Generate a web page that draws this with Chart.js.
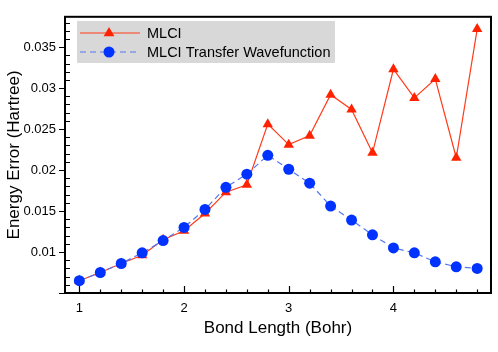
<!DOCTYPE html>
<html>
<head>
<meta charset="utf-8">
<script src="https://cdn.jsdelivr.net/npm/chart.js@4/dist/chart.umd.min.js"></script>
<style>
  body { margin: 0; background: #fff; }
  canvas { display: block; }
</style>
</head>
<body>
<canvas id="grafico" width="498" height="352"></canvas>
<script>
// bond lengths (Bohr)
const bondLength = [1.0, 1.2, 1.4, 1.6, 1.8, 2.0, 2.2, 2.4, 2.6, 2.8,
                    3.0, 3.2, 3.4, 3.6, 3.8, 4.0, 4.2, 4.4, 4.6, 4.8];

// energy errors (Hartree)
const mlci = [0.0065, 0.0075, 0.0086, 0.0096, 0.0115, 0.0126, 0.0147, 0.0173, 0.0182, 0.0256,
              0.0231, 0.0242, 0.0292, 0.0274, 0.0221, 0.0323, 0.0288, 0.0311, 0.0215, 0.0372];
const mlciTransfer = [0.0065, 0.0075, 0.0086, 0.0099, 0.0114, 0.0130, 0.0152, 0.0179, 0.0195, 0.0218,
                      0.0201, 0.0184, 0.0156, 0.0139, 0.0121, 0.0105, 0.0099, 0.0088, 0.0082, 0.0080];

const seriesNames = ['MLCI', 'MLCI Transfer Wavefunction'];
const xTickLabels = [1, 2, 3, 4];
const yTickLabels = [0.01, 0.015, 0.02, 0.025, 0.03, 0.035];

const fontFam = '"Liberation Sans", Arial, Helvetica, sans-serif';

function pts(ys) {
  return ys.map(function (y, i) { return { x: bondLength[i], y: y }; });
}

// frame, tick marks and the legend box
const decor = {
  id: 'decor',
  afterDatasetsDraw(chart) {
    const ctx = chart.ctx;
    const a = chart.chartArea;
    const xs = chart.scales.x, ys = chart.scales.y;
    ctx.save();
    ctx.strokeStyle = '#000';
    ctx.lineWidth = 1.2;
    ctx.beginPath();
    for (let i = 0; i <= 19; i++) {
      const v = 1 + i * 0.2;
      const px = Math.round(xs.getPixelForValue(v)) + 0.5;
      const len = (i % 5 === 0) ? 7 : 3.5;
      ctx.moveTo(px, a.bottom);
      ctx.lineTo(px, a.bottom - len);
    }
    for (let i = 5; i <= 38; i++) {
      const v = i / 1000;
      const py = Math.round(ys.getPixelForValue(v)) + 0.5;
      if (i % 5 === 0) {
        ctx.moveTo(a.left - 6, py);
        ctx.lineTo(a.left, py);
      } else {
        ctx.moveTo(a.left, py);
        ctx.lineTo(a.left + 5, py);
      }
    }
    ctx.stroke();
    ctx.lineWidth = 2;
    ctx.strokeRect(a.left, a.top, a.right - a.left, a.bottom - a.top);

    // legend
    const lx = 77, ly = 21, lw = 258, lh = 42;
    ctx.fillStyle = '#d8d8d8';
    ctx.fillRect(lx, ly, lw, lh);
    const rows = [33, 52];
    chart.data.datasets.forEach(function (ds, i) {
      const y = rows[i];
      ctx.strokeStyle = ds.borderColor;
      ctx.lineWidth = 1.2;
      ctx.setLineDash(ds.borderDash || []);
      ctx.beginPath();
      ctx.moveTo(80, y);
      ctx.lineTo(140, y);
      ctx.stroke();
      ctx.setLineDash([]);
      ctx.fillStyle = ds.pointBackgroundColor;
      ctx.beginPath();
      if (ds.pointStyle === 'triangle') {
        const r = ds.pointRadius;
        ctx.moveTo(109, y - r);
        ctx.lineTo(109 + r * 0.9, y + r * 0.55);
        ctx.lineTo(109 - r * 0.9, y + r * 0.55);
        ctx.closePath();
      } else {
        ctx.arc(109, y, ds.pointRadius, 0, Math.PI * 2);
      }
      ctx.fill();
      ctx.fillStyle = '#000';
      ctx.font = '14.5px ' + fontFam;
      ctx.textBaseline = 'middle';
      ctx.fillText(ds.label, 147, y + 1);
    });
    ctx.restore();
  }
};

new Chart(document.getElementById('grafico'), {
  type: 'line',
  data: {
    datasets: [{
      label: seriesNames[0],
      data: pts(mlci),
      borderColor: '#ff3b1a',
      borderWidth: 1.2,
      pointStyle: 'triangle',
      pointRadius: 6,
      pointBackgroundColor: '#ff2200',
      pointBorderWidth: 0,
      pointBorderColor: '#ff2200',
      tension: 0,
      order: 1
    }, {
      label: seriesNames[1],
      data: pts(mlciTransfer),
      borderColor: '#5577ee',
      borderWidth: 1.2,
      borderDash: [6, 4],
      pointStyle: 'circle',
      pointRadius: 5.5,
      pointBackgroundColor: '#0033ff',
      pointBorderWidth: 0,
      pointBorderColor: '#0033ff',
      tension: 0,
      order: 0
    }]
  },
  options: {
    responsive: false,
    animation: false,
    layout: { padding: { top: 7, right: 7, left: 0, bottom: 0 } },
    plugins: { legend: { display: false }, tooltip: { enabled: false } },
    scales: {
      x: {
        type: 'linear',
        min: 0.863,
        max: 4.932,
        afterFit(scale) { scale.height = 59; },
        afterBuildTicks(scale) { scale.ticks = xTickLabels.map(function (v) { return { value: v }; }); },
        grid: { display: false, drawTicks: false },
        border: { display: false },
        ticks: { color: '#000', padding: 8, font: { family: fontFam, size: 13 } },
        title: { display: true, text: 'Bond Length (Bohr)', color: '#000',
                 font: { family: fontFam, size: 17 }, padding: { top: 0, bottom: 13 } }
      },
      y: {
        type: 'linear',
        min: 0.005,
        max: 0.0387,
        afterFit(scale) { scale.width = 65; },
        afterBuildTicks(scale) { scale.ticks = yTickLabels.map(function (v) { return { value: v }; }); },
        grid: { display: false, drawTicks: false },
        border: { display: false },
        ticks: { color: '#000', padding: 9, font: { family: fontFam, size: 13 },
                 callback: function (v) { return String(+v.toFixed(3)); } },
        title: { display: true, text: 'Energy Error (Hartree)', color: '#000',
                 font: { family: fontFam, size: 17 }, padding: { top: 4, bottom: 0 } }
      }
    }
  },
  plugins: [decor]
});
</script>
</body>
</html>
